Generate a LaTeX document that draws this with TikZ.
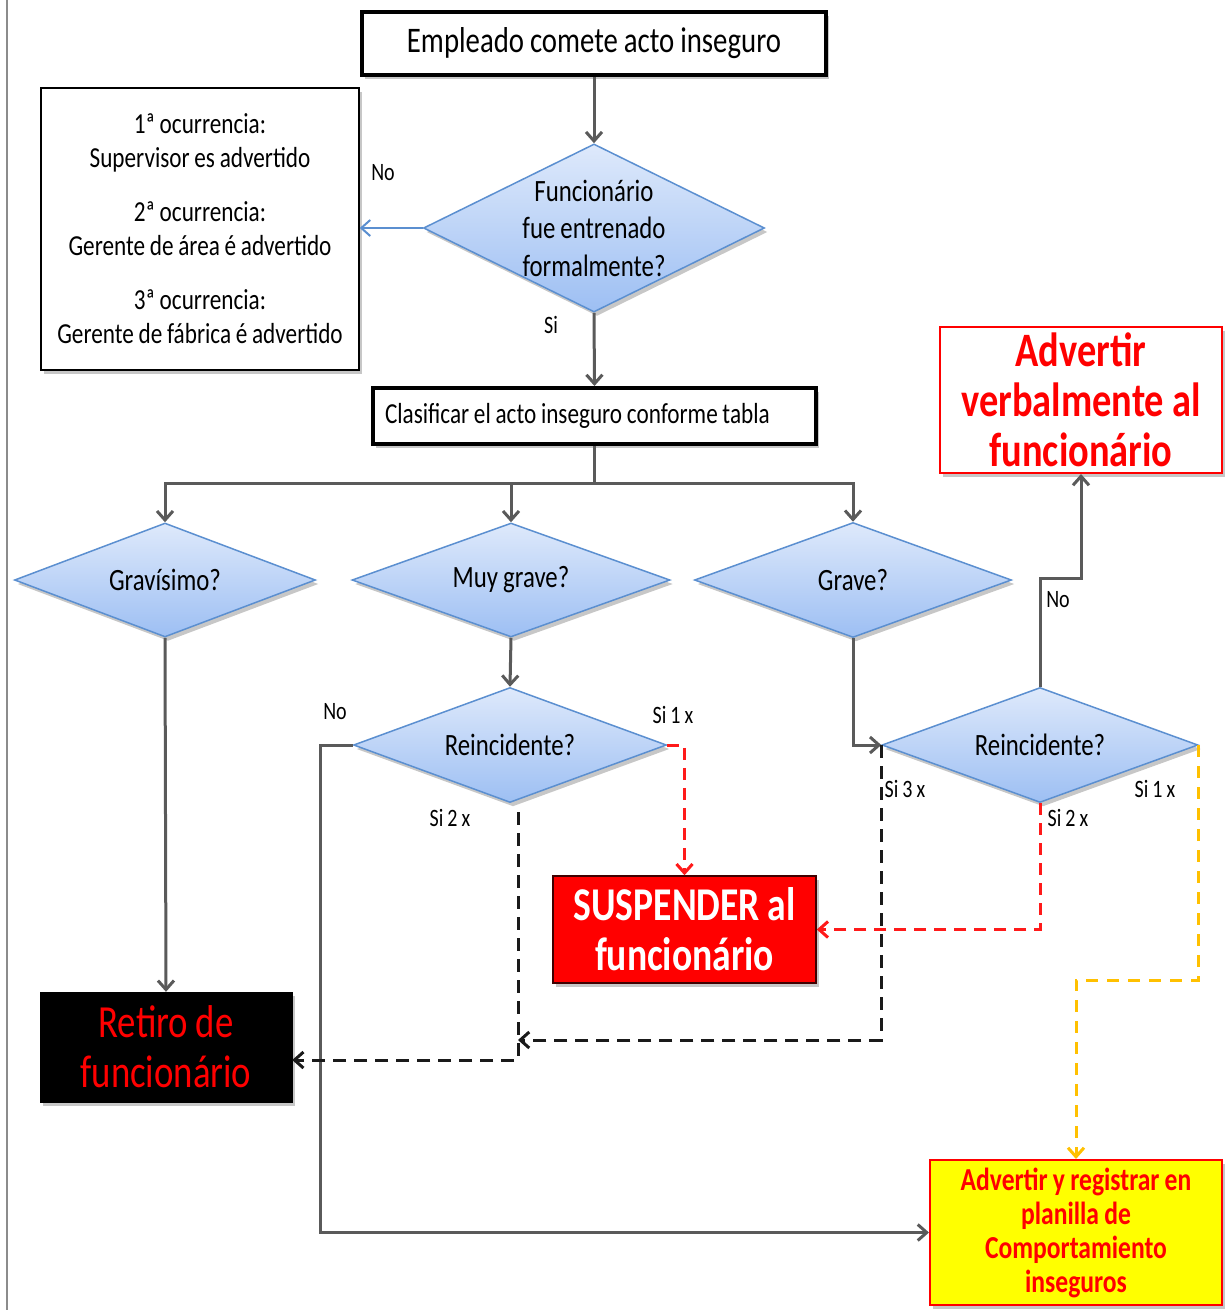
\documentclass[tikz,border=0pt]{standalone}
\usepackage{fontspec}
\setmainfont{Carlito}[FakeStretch=0.8,WordSpace=0.9]
\usetikzlibrary{arrows.meta,shapes.geometric,shadows}

\definecolor{linegray}{HTML}{5A5A5A}
\definecolor{edgegray}{HTML}{8C8C8C}
\definecolor{flowblue}{HTML}{5B8FD0}
\definecolor{dtop}{HTML}{DEE9FB}
\definecolor{dbot}{HTML}{9DBFF3}
\definecolor{dashred}{HTML}{FF1A1A}
\definecolor{dashyellow}{HTML}{FFC000}
\definecolor{boxred}{HTML}{FF0000}
\definecolor{boxyellow}{HTML}{FFFF00}
\definecolor{dashblack}{HTML}{1A1A1A}

\tikzset{
  softshadow/.style={drop shadow={shadow xshift=3pt,shadow yshift=-4pt,opacity=0.22,fill=black}},
  barbtip/.style={-{Straight Barb[length=9pt,width=16pt]}},
  gline/.style={draw=linegray,line width=3pt},
  garrow/.style={gline,barbtip},
  barrow/.style={draw=flowblue,line width=2pt,barbtip},
  kdash/.style={draw=dashblack,line width=3pt,dash pattern=on 13pt off 8pt,barbtip},
  rdash/.style={draw=dashred,line width=3pt,dash pattern=on 12pt off 8pt,barbtip},
  ydash/.style={draw=dashyellow,line width=3pt,dash pattern=on 12pt off 9pt,barbtip},
  decision/.style={diamond,draw=flowblue,line width=1.5pt,top color=dtop,bottom color=dbot,
    inner sep=0pt,aspect=2,align=center,softshadow,font=\fontsize{31}{37.5}\selectfont},
  heavybox/.style={draw=black,line width=4pt,fill=white,softshadow},
  lbl/.style={inner sep=0pt,font=\fontsize{25}{30}\selectfont}
}

\begin{document}
\begin{tikzpicture}[x=1pt,y=-1pt]
  % canvas and left rule
  \fill[white] (0,0) rectangle (1231,1310);
  \useasboundingbox (0,0) rectangle (1231,1310);
  \draw[edgegray,line width=2pt] (7,0) -- (7,1310);

  % top of the flow
  \node[heavybox,minimum width=464pt,minimum height=63pt,
        font=\fontsize{36}{43}\selectfont] (t) at (594,43.5) {Empleado comete acto inseguro};
  \node[decision,minimum width=341pt,minimum height=167pt] (d1) at (594,228)
    {Funcionário\\fue entrenado\\formalmente?};
  \node[draw=black,line width=1.5pt,fill=white,softshadow,text width=306pt,inner xsep=6pt,
        minimum height=282pt,align=flush center,font=\fontsize{29}{34}\selectfont] (lb) at (200,229)
    {1ª ocurrencia:\\Supervisor es advertido\\[20pt]2ª ocurrencia:\\Gerente de área é advertido\\[20pt]3ª ocurrencia:\\Gerente de fábrica é advertido};
  \node[heavybox,text width=419pt,inner xsep=12pt,minimum height=56pt,align=flush left,
        font=\fontsize{29}{34}\selectfont] (cl) at (594.5,416) {Clasificar el acto inseguro conforme tabla};

  % classification
  \node[decision,minimum width=301pt,minimum height=114pt] (g1) at (165,580) {Gravísimo?};
  \node[decision,minimum width=318pt,minimum height=114pt] (g2) at (511,580) {Muy grave?};
  \node[decision,minimum width=317pt,minimum height=115pt] (g3) at (853,580) {Grave?};
  \node[decision,minimum width=313pt,minimum height=115pt] (r1) at (510,745) {Reincidente?};
  \node[decision,minimum width=316pt,minimum height=115pt] (r2) at (1040,745) {Reincidente?};

  % outcomes
  \node[draw=boxred,line width=2pt,fill=white,softshadow,minimum width=282pt,minimum height=146pt,
        align=center,text=boxred,font=\fontsize{48}{50}\selectfont\bfseries] (adv) at (1081,400)
    {Advertir\\verbalmente al\\funcionário};
  \node[draw=black!75!red,line width=1.5pt,fill=boxred,softshadow,minimum width=263pt,minimum height=107pt,
        align=center,text=white,font=\fontsize{47}{50}\selectfont\bfseries] (sus) at (684.5,929.5)
    {SUSPENDER al\\funcionário};
  \node[draw=black,fill=black,softshadow,minimum width=252pt,minimum height=110pt,
        align=center,text=boxred,font=\fontsize{46}{50}\selectfont] (ret) at (166,1047)
    {Retiro de\\funcionário};
  \node[draw=boxred,line width=2pt,fill=boxyellow,softshadow,minimum width=292pt,minimum height=145pt,
        align=center,text=boxred,font=\fontsize{32}{34}\selectfont\bfseries] (adr) at (1076,1232.5)
    {Advertir y registrar en\\planilla de\\Comportamiento\\inseguros};

  % labels
  \node[lbl] (lno1) at (383,173) {No};
  \node[lbl] (lsi1) at (551,325) {Si};
  \node[lbl] (lno2) at (335,712) {No};
  \node[lbl] (la1) at (673,715) {Si 1 x};
  \node[lbl] (la2) at (450,818) {Si 2 x};
  \node[lbl] (lb3) at (905,789) {Si 3 x};
  \node[lbl] (lb2) at (1068,818) {Si 2 x};
  \node[lbl] (lb1) at (1155,789) {Si 1 x};
  \node[lbl] (lno3) at (1058,600) {No};

  % helper points
  \coordinate (bus) at (594.5,483);
  \coordinate (k1) at (518,812);
  \coordinate (k2) at (518,1060);
  \coordinate (k3) at (518,1040);

  % connectors
  \draw[garrow] (t.south) -- (d1.north);
  \draw[barrow] (d1.west) -- (d1.west -| lb.east);
  \draw[garrow] (d1.south) -- (cl.north);
  \draw[gline] (cl.south) -- (bus);
  \draw[garrow] (bus) -| (g1.north);
  \draw[garrow] (bus) -| (g3.north);
  \draw[garrow] (g2.north |- bus) -- (g2.north);
  \draw[garrow] (g1.south) -- (ret.north);
  \draw[garrow] (g2.south) -- (r1.north);
  \draw[garrow] (r1.west) -- ++(-32,0) |- (adr.west);
  \draw[rdash] (r1.east) -| (sus.north);
  \draw[kdash] (k1) -- (k2) -- (k2 -| ret.east);
  \draw[garrow] (g3.south) |- (r2.west);
  \draw[garrow] (r2.north) -- ++(0,-108) -| (adv.south);
  \draw[kdash] (r2.west) |- (k3);
  \draw[rdash] (r2.south) |- (sus.east);
  \draw[ydash] (r2.east) -- ++(0,235) -| (adr.north);
\end{tikzpicture}
\end{document}
